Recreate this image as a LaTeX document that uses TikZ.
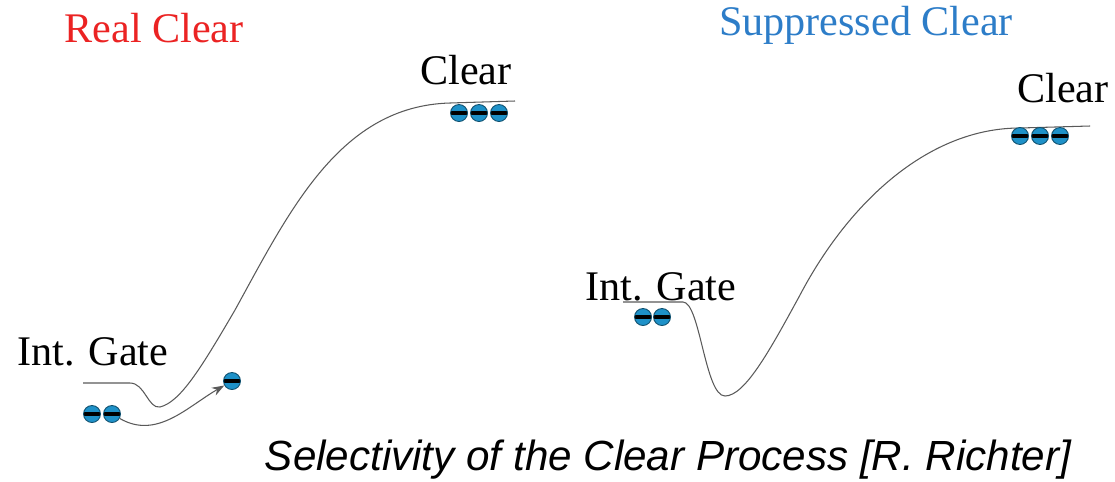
\documentclass[tikz,border=0pt]{standalone}
\usepackage{fontspec}
\setmainfont{Liberation Serif}
\setsansfont{Liberation Sans}
\usetikzlibrary{arrows.meta}
\definecolor{elec}{RGB}{30,145,200}
\definecolor{realred}{RGB}{235,35,35}
\definecolor{suppblue}{RGB}{45,125,200}
\tikzset{
  electron/.style={circle, fill=elec, draw=elec!55!black, line width=0.5pt, inner sep=0pt, minimum size=0.34cm,
    path picture={\draw[black, line width=2.4pt] (path picture bounding box.west) -- (path picture bounding box.east);}},
  label/.style={font=\fontsize{24}{28}\selectfont, inner sep=0pt},
  curve/.style={line width=0.6pt, black!65}
}
\begin{document}
\begin{tikzpicture}[x=0.02cm,y=-0.02cm]
        \useasboundingbox (0,0) rectangle (1115,481);
        % Titles
        \node[label, text=realred]  (t1) at (154,28) {Real Clear};
        \node[label, text=suppblue] (t2) at (866,25) {Suppressed Clear};
        \node[label, anchor=west]   (c1) at (420,70) {Clear};
        \node[label, anchor=west]   (c2) at (1017,88) {Clear};
        \node[label, anchor=west]   (g1) at (17,352) {Int. Gate};
        \node[label, anchor=west]   (g2) at (585,287) {Int. Gate};
        \node[label, font=\fontsize{24}{28}\selectfont\sffamily\itshape] (cap) at (668,460) {Selectivity of the Clear Process [R. Richter]};
        % Curves
        \draw[curve] (83,383) -- (130,383) .. controls (145,383) and (148,409) .. (160,407)
            .. controls (180,402) and (200,370) .. (235,310)
            .. controls (290,210) and (340,106) .. (450,103) -- (515,101);
        \draw[curve] (623,302) -- (683,302) .. controls (700,302) and (705,396) .. (725,396)
            .. controls (745,396) and (770,350) .. (800,295)
            .. controls (850,200) and (930,128) .. (1020,128) -- (1090,126);
        % Electrons
        \node[electron] (e1) at (92,414) {};
        \node[electron] (e2) at (112,414) {};
        \node[electron] (e3) at (232,381) {};
        \node[electron] (f1) at (459,113) {};
        \node[electron] (f2) at (479,113) {};
        \node[electron] (f3) at (499,113) {};
        \node[electron] (h1) at (643,317) {};
        \node[electron] (h2) at (662,317) {};
        \node[electron] (k1) at (1020,136) {};
        \node[electron] (k2) at (1040,136) {};
        \node[electron] (k3) at (1060,136) {};
        \draw[curve, -{Stealth[length=7pt,width=5pt]}] (e2) to[out=-30,in=210] (e3);
    \end{tikzpicture}
\end{document}
